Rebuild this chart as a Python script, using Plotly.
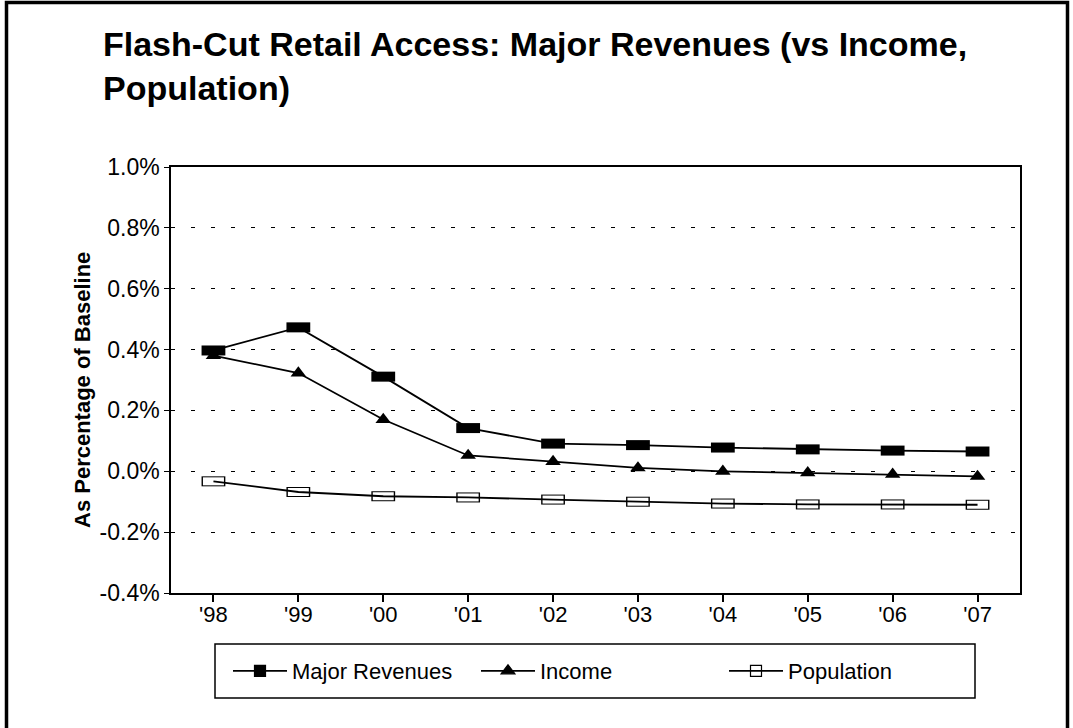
import plotly.graph_objects as go

# ---- data ----
years = ["'98", "'99", "'00", "'01", "'02", "'03", "'04", "'05", "'06", "'07"]
major_revenues = [0.397, 0.473, 0.311, 0.142, 0.091, 0.086, 0.078, 0.072, 0.068, 0.065]
income = [0.380, 0.323, 0.170, 0.052, 0.032, 0.011, 0.000, -0.005, -0.010, -0.017]
population = [-0.033, -0.068, -0.082, -0.086, -0.093, -0.100, -0.106, -0.109, -0.109, -0.110]

y_tick_values = [-0.4, -0.2, 0.0, 0.2, 0.4, 0.6, 0.8, 1.0]
y_tick_labels = ["-0.4%", "-0.2%", "0.0%", "0.2%", "0.4%", "0.6%", "0.8%", "1.0%"]

title_text = "Flash-Cut Retail Access: Major Revenues (vs Income,<br>Population)"
y_title = "As Percentage of Baseline"
legend_names = ["Major Revenues", "Income", "Population"]

# ---- layout geometry ----
W, H = 1073, 728
L, R, T, B = 171, 53, 167, 135
PW = W - L - R
PH = H - T - B


def px_x(p):
    return (p - L) / PW


def px_y(p):
    return (H - B - p) / PH


FONT = "Liberation Sans, Arial, Helvetica, sans-serif"
LW = 1.8

fig = go.Figure()

# Income (triangles)
fig.add_trace(go.Scatter(
    x=years, y=income, mode="lines+markers", showlegend=False, hoverinfo="skip",
    line=dict(color="black", width=LW),
    marker=dict(symbol="triangle-up", size=13.5, color="black")))

# Major revenues (filled rectangles)
fig.add_trace(go.Scatter(
    x=years, y=major_revenues, mode="lines+markers", showlegend=False, hoverinfo="skip",
    line=dict(color="black", width=LW),
    marker=dict(symbol="line-ew", size=17, color="black",
                line=dict(color="black", width=10))))

# Population (open rectangles, line passing through)
fig.add_trace(go.Scatter(
    x=years, y=population, mode="markers", showlegend=False, hoverinfo="skip",
    marker=dict(symbol="line-ew", size=17, color="black",
                line=dict(color="black", width=10))))
fig.add_trace(go.Scatter(
    x=years, y=population, mode="markers", showlegend=False, hoverinfo="skip",
    marker=dict(symbol="line-ew", size=15, color="white",
                line=dict(color="white", width=8))))
fig.add_trace(go.Scatter(
    x=years, y=population, mode="lines", showlegend=False, hoverinfo="skip",
    line=dict(color="black", width=LW)))

# legend entries
legend_symbols = ["square", "triangle-up", "square-open"]
legend_sizes = [11, 12, 11]
for name, sym, sz in zip(legend_names, legend_symbols, legend_sizes):
    fig.add_trace(go.Scatter(
        x=[None], y=[None], mode="lines+markers", name=name,
        line=dict(color="black", width=LW),
        marker=dict(symbol=sym, size=sz, color="black",
                    line=dict(color="black", width=1.2))))

shapes = [
    # outer frame of the picture
    dict(type="rect", xref="paper", yref="paper",
         x0=px_x(6.5), x1=px_x(1067.5), y0=px_y(800), y1=px_y(2.5),
         line=dict(color="black", width=3.5), fillcolor="rgba(0,0,0,0)"),
    # legend box
    dict(type="rect", xref="paper", yref="paper",
         x0=px_x(215), x1=px_x(975), y0=px_y(698), y1=px_y(644),
         line=dict(color="black", width=1.5), fillcolor="rgba(0,0,0,0)"),
]

annotations = [
    dict(text="<b>" + y_title + "</b>", xref="paper", yref="paper",
         x=px_x(82), y=px_y(390), xanchor="center", yanchor="middle",
         textangle=-90, showarrow=False,
         font=dict(size=22, family=FONT, color="black")),
]

fig.update_layout(
    width=W, height=H,
    margin=dict(l=L, r=R, t=T, b=B, autoexpand=False),
    paper_bgcolor="white", plot_bgcolor="white",
    font=dict(family=FONT, color="black", size=22),
    title=dict(text="<b>" + title_text + "</b>",
               font=dict(size=34, family=FONT, color="black"),
               x=103 / W, xanchor="left", xref="container",
               y=1 - 56 / H, yanchor="top", yref="container"),
    showlegend=True,
    legend=dict(orientation="h", x=px_x(228), xanchor="left",
                y=px_y(671), yanchor="middle",
                entrywidth=179, entrywidthmode="pixels", itemwidth=54,
                font=dict(size=22, family=FONT, color="black"),
                bgcolor="rgba(0,0,0,0)", borderwidth=0, traceorder="normal"),
    xaxis=dict(type="category", range=[-0.5, 9.5],
               showline=True, mirror=True, linecolor="black", linewidth=1.5,
               ticks="outside", ticklen=7, tickwidth=1.5, tickcolor="black",
               showgrid=False, zeroline=False, tickfont=dict(size=22),
               ticklabelstandoff=-6),
    yaxis=dict(range=[-0.4, 1.0], tickmode="array",
               tickvals=y_tick_values, ticktext=y_tick_labels,
               showline=True, mirror=True, linecolor="black", linewidth=1.5,
               ticks="outside", ticklen=5, tickwidth=1, tickcolor="black",
               showgrid=True, gridcolor="black", griddash="4px,16px", gridwidth=1,
               zeroline=False, tickfont=dict(size=23), ticklabelstandoff=0),
    shapes=shapes,
    annotations=annotations,
)

fig.write_html("out.html", config={"displayModeBar": False},
               post_script="document.body.style.margin='0px';")
